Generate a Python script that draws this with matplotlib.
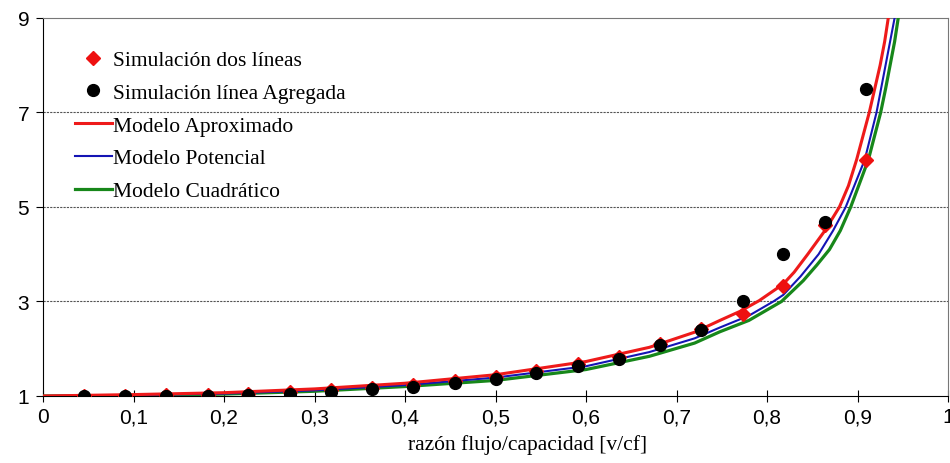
import numpy as np
import matplotlib
matplotlib.use("Agg")
from matplotlib import pyplot as plt
from matplotlib.ticker import FuncFormatter

# razon flujo/capacidad de los puntos simulados
vc = [0.045, 0.091, 0.136, 0.182, 0.227, 0.273, 0.318, 0.364, 0.409, 0.455,
      0.500, 0.545, 0.591, 0.636, 0.682, 0.727, 0.773, 0.818, 0.864, 0.909]
sim_dos = [1.01, 1.01, 1.02, 1.03, 1.05, 1.08, 1.12, 1.17, 1.24, 1.31,
           1.40, 1.53, 1.68, 1.83, 2.10, 2.42, 2.74, 3.32, 4.62, 6.00]
sim_agr = [1.00, 1.00, 1.00, 1.00, 1.02, 1.05, 1.09, 1.14, 1.20, 1.27,
           1.36, 1.48, 1.64, 1.79, 2.07, 2.40, 3.00, 4.00, 4.69, 7.50]

# curvas de los modelos
x_aprox = [0, 0.1, 0.2, 0.3, 0.4, 0.5, 0.6, 0.67, 0.72, 0.748, 0.77, 0.7915, 0.818,
           0.83, 0.845, 0.864, 0.88, 0.89, 0.899, 0.913, 0.919, 0.925, 0.93, 0.934, 0.94]
y_aprox = [1.0, 1.03, 1.07, 1.15, 1.27, 1.45, 1.73, 2.03, 2.35, 2.60, 2.79, 3.02, 3.37,
           3.62, 4.0, 4.5, 5.0, 5.45, 6.0, 7.0, 7.5, 8.0, 8.5, 9.0, 9.9]

x_pot = [0, 0.1, 0.2, 0.3, 0.4, 0.5, 0.6, 0.67, 0.72, 0.748, 0.78, 0.807, 0.818,
         0.837, 0.857, 0.873, 0.887, 0.908, 0.921, 0.926, 0.931, 0.936, 0.941, 0.946]
y_pot = [1.0, 1.02, 1.05, 1.12, 1.23, 1.39, 1.63, 1.93, 2.22, 2.45, 2.70, 3.0, 3.14,
         3.53, 4.0, 4.5, 5.0, 6.0, 7.0, 7.5, 8.0, 8.5, 9.0, 9.8]

x_cuad = [0, 0.1, 0.2, 0.3, 0.4, 0.5, 0.6, 0.67, 0.72, 0.748, 0.78, 0.816, 0.84,
          0.855, 0.869, 0.881, 0.8925, 0.912, 0.9256, 0.931, 0.936, 0.941, 0.945, 0.95]
y_cuad = [1.0, 1.01, 1.04, 1.10, 1.20, 1.33, 1.56, 1.84, 2.12, 2.36, 2.60, 3.0, 3.44,
          3.77, 4.1, 4.5, 5.0, 6.0, 7.0, 7.5, 8.0, 8.5, 9.0, 9.8]

serif = "Liberation Serif"
sans = "Liberation Sans"

fig = plt.figure(figsize=(9.5, 4.64), dpi=100)
ax = fig.add_axes([0.0453, 0.1444, 0.9526, 0.8147])

ax.plot(x_cuad, y_cuad, color="#17871a", lw=2.3, label="Modelo Cuadrático", zorder=3)
ax.plot(x_pot, y_pot, color="#1414b4", lw=1.5, label="Modelo Potencial", zorder=3)
ax.plot(x_aprox, y_aprox, color="#ee1a1a", lw=2.2, label="Modelo Aproximado", zorder=4)
ax.plot(vc, sim_dos, ls="none", marker="D", ms=7, color="#ee1010",
        label="Simulación dos líneas", zorder=5)
ax.plot(vc, sim_agr, ls="none", marker="o", ms=8.5, color="black",
        label="Simulación línea Agregada", zorder=6)

ax.set_xlim(0, 1)
ax.set_ylim(1, 9)
ax.set_xticks(np.arange(0, 1.01, 0.1))
ax.set_yticks([1, 3, 5, 7, 9])
ax.xaxis.set_major_formatter(FuncFormatter(lambda v, p: ("%g" % round(v, 1)).replace(".", ",")))

for y in [3, 5, 7]:
    ax.axhline(y, color="#555555", lw=0.8, ls=(0, (2, 1)), zorder=1)

ax.spines["top"].set_color("#777777")
ax.spines["right"].set_color("#777777")
ax.tick_params(axis="x", direction="inout", length=8, pad=4, labelsize=15)
ax.tick_params(axis="y", direction="out", length=5, pad=5, labelsize=15)
for lab in ax.get_xticklabels() + ax.get_yticklabels():
    lab.set_fontfamily(sans)

ax.set_xlabel("razón flujo/capacidad [v/cf]", fontfamily=serif, fontsize=15.5)
ax.xaxis.set_label_coords(0.535, -0.10)

h, l = ax.get_legend_handles_labels()
order = [3, 4, 2, 1, 0]
ax.legend([h[i] for i in order], [l[i] for i in order], loc="upper left",
          bbox_to_anchor=(0.026, 0.938), frameon=False, handlelength=1.7,
          handletextpad=0.08, labelspacing=0.59, borderaxespad=0,
          prop={"family": serif, "size": 15.5})

fig.savefig("out.png", dpi=100)
